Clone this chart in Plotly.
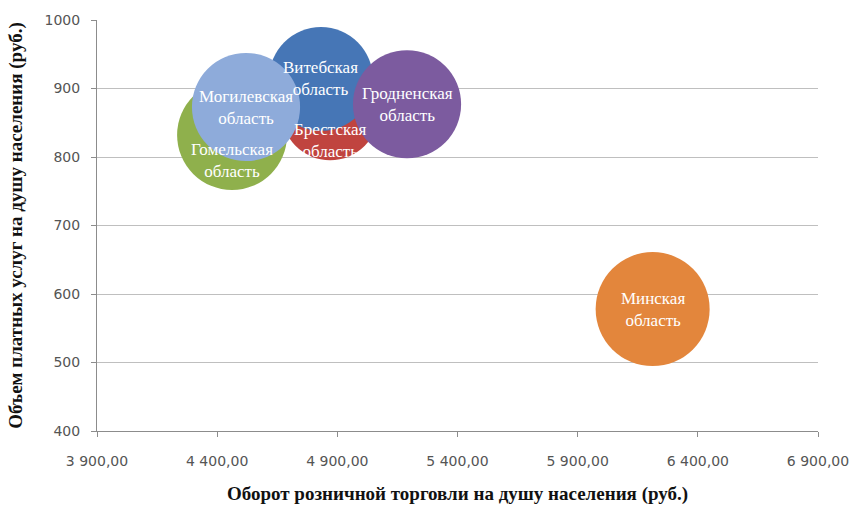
import plotly.graph_objects as go

# Regions of Belarus: retail turnover vs. paid services per capita (rub.)
regions = [
    "Брестская<br>область",
    "Гомельская<br>область",
    "Витебская<br>область",
    "Могилевская<br>область",
    "Гродненская<br>область",
    "Минская<br>область",
]
retail_turnover = [4870, 4462, 4832, 4520, 5190, 6212]
paid_services = [867, 832, 914, 873, 877, 578]
bubble_values = [0.74, 0.93, 0.83, 0.90, 0.90, 1.00]

colors = ["#C0443F", "#8FB04C", "#4676B6", "#8EABDA", "#7C5B9F", "#E3863C"]
label_shift = [-29, -25, 0, 0, 0, 0]

max_diameter = 114
sizeref = 2 * max(bubble_values) / max_diameter ** 2

fig = go.Figure(
    go.Scatter(
        x=retail_turnover,
        y=paid_services,
        mode="markers",
        marker=dict(
            size=bubble_values,
            sizemode="area",
            sizeref=sizeref,
            color=colors,
            opacity=1,
            line=dict(width=0),
        ),
        hoverinfo="skip",
        showlegend=False,
        cliponaxis=True,
    )
)

for name, x, y, dy in zip(regions, retail_turnover, paid_services, label_shift):
    fig.add_annotation(
        x=x, y=y, text=name, showarrow=False, yshift=dy,
        font=dict(family="Liberation Serif", size=17, color="white"),
        align="center",
    )

tick_font = dict(family="DejaVu Sans", size=14, color="#555555")
title_font = dict(family="Liberation Serif", size=19, color="#111111")

fig.update_layout(
    width=855,
    height=506,
    margin=dict(l=97, r=37, t=20, b=75),
    paper_bgcolor="white",
    plot_bgcolor="white",
    separators=", ",
    xaxis=dict(
        range=[3900, 6900],
        tick0=3900,
        dtick=500,
        tickformat=",.2f",
        showgrid=False,
        zeroline=False,
        showline=True,
        linecolor="#8C8C8C",
        linewidth=1,
        ticks="outside",
        ticklen=5,
        tickcolor="#8C8C8C",
        ticklabelstandoff=12,
        tickfont=tick_font,
        automargin=False,
        title=dict(text="<b>Оборот розничной торговли на душу населения (руб.)</b>",
                   font=title_font, standoff=18),
    ),
    yaxis=dict(
        range=[400, 1000],
        dtick=100,
        tickformat="d",
        showgrid=True,
        gridcolor="#BFBFBF",
        gridwidth=1,
        zeroline=False,
        showline=True,
        linecolor="#8C8C8C",
        linewidth=1,
        ticks="outside",
        ticklen=5,
        tickcolor="#8C8C8C",
        ticklabelstandoff=8,
        tickfont=tick_font,
        automargin=False,
        title=dict(text="<b>Объем платных услуг на душу населения (руб.)</b>",
                   font=title_font, standoff=16),
    ),
)

fig.write_html("out.html")
